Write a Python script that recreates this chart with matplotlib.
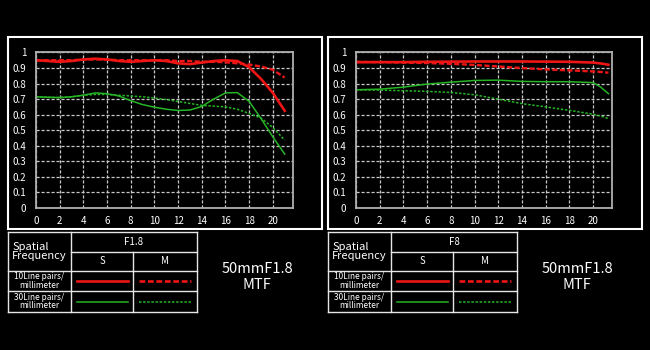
import matplotlib
matplotlib.use("Agg")
import matplotlib.pyplot as plt
from matplotlib.lines import Line2D
from matplotlib.patches import Rectangle

plt.rcParams['font.family'] = ['Noto Sans CJK SC', 'DejaVu Sans']

W, H = 650, 350
RED = '#ee1515'
GREEN = '#25b525'
RED_DASH = (0, (2.2, 1.0))
GREEN_DOT = (0, (1.6, 1.1))

# F1.8 (wide open)
f18_x = [0, 1, 2, 3, 4, 5, 6, 7, 8, 9, 10, 11, 12, 13, 14, 15, 16, 17, 18, 19, 20, 21]
f18_s10 = [0.95, 0.945, 0.94, 0.945, 0.955, 0.96, 0.955, 0.945, 0.94, 0.945, 0.95,
           0.945, 0.93, 0.925, 0.935, 0.945, 0.95, 0.945, 0.905, 0.83, 0.74, 0.625]
f18_m10 = [0.95, 0.95, 0.95, 0.95, 0.955, 0.955, 0.955, 0.95, 0.95, 0.95, 0.95,
           0.95, 0.945, 0.945, 0.94, 0.94, 0.937, 0.93, 0.922, 0.91, 0.889, 0.838]
f18_s30 = [0.715, 0.712, 0.71, 0.715, 0.725, 0.74, 0.735, 0.72, 0.69, 0.665, 0.648,
           0.635, 0.627, 0.63, 0.653, 0.70, 0.74, 0.742, 0.685, 0.575, 0.457, 0.346]
f18_m30 = [0.715, 0.712, 0.71, 0.715, 0.725, 0.73, 0.73, 0.725, 0.72, 0.715, 0.707,
           0.697, 0.685, 0.672, 0.66, 0.655, 0.65, 0.635, 0.608, 0.578, 0.517, 0.436]

# F8 (stopped down)
f8_x = [0, 2, 4, 6, 8, 10, 12, 14, 16, 18, 20, 20.6, 21.3]
f8_s10 = [0.937, 0.938, 0.938, 0.94, 0.941, 0.942, 0.942, 0.942, 0.941, 0.94, 0.935, 0.93, 0.921]
f8_m10 = [0.94, 0.938, 0.935, 0.932, 0.927, 0.92, 0.91, 0.90, 0.891, 0.885, 0.878, 0.875, 0.87]
f8_s30 = [0.76, 0.764, 0.777, 0.797, 0.809, 0.82, 0.822, 0.814, 0.812, 0.812, 0.806, 0.78, 0.735]
f8_m30 = [0.76, 0.758, 0.754, 0.75, 0.743, 0.728, 0.70, 0.671, 0.65, 0.628, 0.603, 0.592, 0.575]

x_ticks = list(range(0, 21, 2))
y_ticks = [0, 0.1, 0.2, 0.3, 0.4, 0.5, 0.6, 0.7, 0.8, 0.9, 1]
y_labels = ['0', '0.1', '0.2', '0.3', '0.4', '0.5', '0.6', '0.7', '0.8', '0.9', '1']
row_labels = ['10Line pairs/\nmillimeter', '30Line pairs/\nmillimeter']
lens_name = '50mmF1.8\nMTF'

fig = plt.figure(figsize=(W / 100, H / 100), dpi=100)
fig.patch.set_facecolor('black')


def fx(px):
    return px / W


def fy(py):
    return 1 - py / H


def hline(x0, x1, y, **kw):
    fig.add_artist(Line2D([fx(x0), fx(x1)], [fy(y), fy(y)], **kw))


def vline(x, y0, y1, **kw):
    fig.add_artist(Line2D([fx(x), fx(x)], [fy(y0), fy(y1)], **kw))


def draw_panel(ox, ax_left, ax_right, xmax, x, s10, m10, s30, m30, aperture, tab_cols):
    # outer frame
    fig.add_artist(Rectangle((fx(ox), fy(229)), fx(314), 192 / H, fill=False,
                             edgecolor='white', linewidth=1.5))

    ax = fig.add_axes([fx(ax_left), fy(208), fx(ax_right - ax_left), 156 / H])
    ax.set_facecolor('black')
    ax.plot(x, s10, color=RED, lw=1.9)
    ax.plot(x, m10, color=RED, lw=1.7, ls=RED_DASH)
    ax.plot(x, s30, color=GREEN, lw=1.1)
    ax.plot(x, m30, color=GREEN, lw=1.1, ls=GREEN_DOT)
    ax.set_xlim(0, xmax)
    ax.set_ylim(0, 1.003)
    ax.set_xticks(x_ticks)
    ax.set_yticks(y_ticks)
    ax.set_yticklabels(y_labels)
    ax.grid(True, color='#c8c8c8', ls=(0, (2.5, 1.5)), lw=0.9)
    ax.tick_params(colors='white', labelsize=7, length=0, pad=6)
    ax.tick_params(axis='y', pad=7)
    for lbl in ax.get_xticklabels() + ax.get_yticklabels():
        lbl.set_fontweight('medium')
    for sp in ax.spines.values():
        sp.set_color('#b0b0b0')
        sp.set_linewidth(1.3)

    # legend table
    c0, c1, c2, c3 = tab_cols
    r0, r1, r2, r3, r4 = 232, 252, 271, 291, 312
    kw = dict(color='#e6e6e6', lw=1.0)
    for r in (r0, r2, r3, r4):
        hline(c0, c3, r, **kw)
    hline(c1, c3, r1, **kw)
    for c in (c0, c1, c3):
        vline(c, r0, r4, **kw)
    vline(c2, r1, r4, **kw)

    txt = dict(color='white', ha='center', va='center')
    fig.text(fx((c0 + c1) / 2), fy((r0 + r2) / 2), 'Spatial\nFrequency',
             fontsize=8, linespacing=0.95, multialignment='left', **txt)
    fig.text(fx((c1 + c3) / 2), fy((r0 + r1) / 2), aperture, fontsize=7, **txt)
    fig.text(fx((c1 + c2) / 2), fy((r1 + r2) / 2), 'S', fontsize=7, **txt)
    fig.text(fx((c2 + c3) / 2), fy((r1 + r2) / 2), 'M', fontsize=7, **txt)
    for i, (ra, rb) in enumerate([(r2, r3), (r3, r4)]):
        fig.text(fx((c0 + c1) / 2), fy((ra + rb) / 2), row_labels[i],
                 fontsize=6, linespacing=0.9, **txt)
        ym = (ra + rb) / 2
        col = RED if i == 0 else GREEN
        lw = 1.9 if i == 0 else 1.1
        dash = RED_DASH if i == 0 else GREEN_DOT
        hline(c1 + 6, c2 - 5, ym, color=col, lw=lw)
        hline(c2 + 6, c3 - 6, ym, color=col, lw=lw, ls=dash)

    fig.text(fx(c3 + 60), fy(277), lens_name, fontsize=10.5, linespacing=1.2, **txt)


draw_panel(8, 36, 293, 21.7, f18_x, f18_s10, f18_m10, f18_s30, f18_m30, 'F1.8',
           (8, 71, 133, 197))
draw_panel(328, 356, 612, 21.6, f8_x, f8_s10, f8_m10, f8_s30, f8_m30, 'F8',
           (328, 391, 453, 517))

fig.savefig('out.png', dpi=100, facecolor='black')
